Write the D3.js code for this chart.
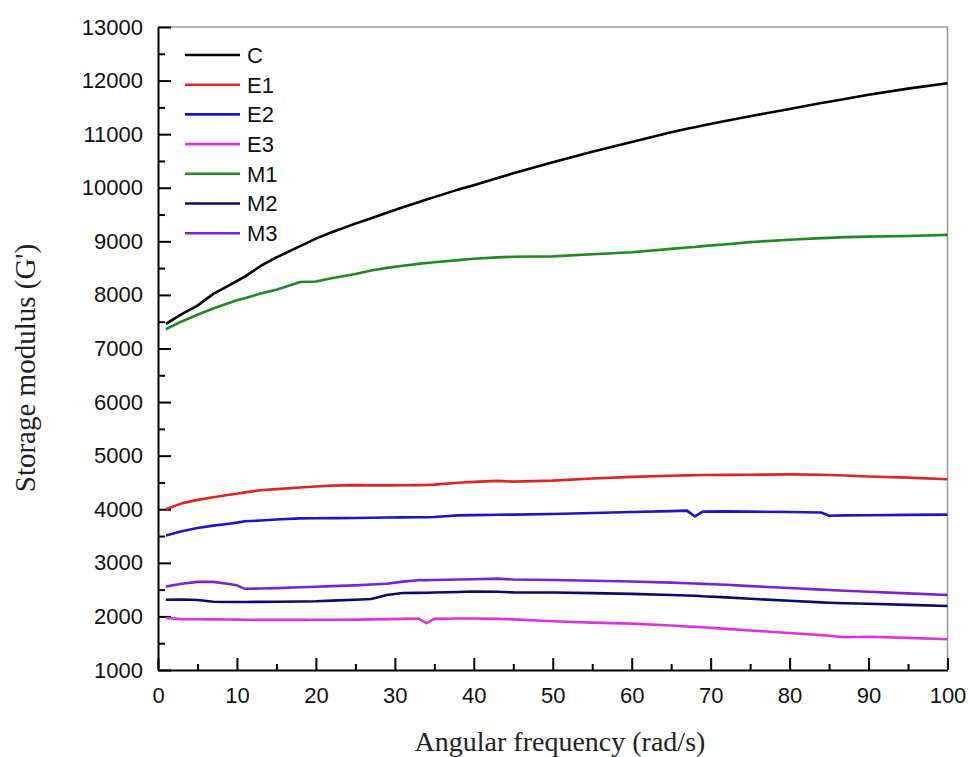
<!DOCTYPE html>
<html>
<head>
<meta charset="utf-8">
<script src="https://cdn.jsdelivr.net/npm/d3@7"></script>
<style>
  body { margin: 0; background: #fff; }
  svg { display: block; }
</style>
</head>
<body>
<div id="chart"></div>
<script>
// angular frequency (rad/s) sampling used for all series
const freq = [1, 3, 5, 7, 9, 10, 11, 13, 15, 18, 20, 22, 25, 27, 29, 31, 33, 34, 35, 38,
  40, 43, 45, 50, 55, 60, 65, 67, 68, 69, 72, 75, 80, 84, 85, 87, 90, 95, 100];

const seriesNames = ['C', 'E1', 'E2', 'E3', 'M1', 'M2', 'M3'];
const seriesColors = ['#000000', '#e02424', '#1818c8', '#dd33dd', '#1f8a1f', '#0b0b6e', '#7a22d4'];

const valC = [7460, 7640, 7800, 8020, 8180, 8260, 8340, 8540, 8700, 8910, 9050, 9170, 9330, 9430, 9535, 9635, 9730, 9780, 9825, 9965,
  10045, 10180, 10270, 10475, 10670, 10855, 11035, 11100, 11130, 11160, 11250, 11335, 11470, 11580, 11605, 11655, 11735, 11850, 11950];
const valE1 = [4000, 4110, 4175, 4225, 4270, 4290, 4315, 4355, 4375, 4405, 4425, 4440, 4450, 4445, 4445, 4448, 4450, 4452, 4460, 4495,
  4510, 4530, 4515, 4535, 4575, 4605, 4625, 4632, 4635, 4640, 4642, 4645, 4650, 4645, 4640, 4630, 4612, 4590, 4560];
const valE2 = [3510, 3590, 3650, 3695, 3730, 3750, 3775, 3790, 3810, 3830, 3832, 3835, 3838, 3842, 3845, 3848, 3850, 3852, 3855, 3885,
  3890, 3898, 3900, 3910, 3930, 3950, 3965, 3975, 3865, 3955, 3960, 3955, 3948, 3940, 3880, 3885, 3888, 3895, 3900];
const valE3 = [1970, 1950, 1948, 1945, 1942, 1940, 1938, 1935, 1935, 1935, 1937, 1938, 1940, 1945, 1950, 1955, 1960, 1875, 1955, 1960,
  1962, 1955, 1945, 1910, 1885, 1865, 1830, 1812, 1805, 1798, 1768, 1738, 1690, 1650, 1640, 1612, 1620, 1600, 1575];
const valM1 = [7360, 7505, 7630, 7745, 7850, 7900, 7940, 8025, 8095, 8240, 8250, 8310, 8390, 8455, 8505, 8545, 8580, 8595, 8610, 8650,
  8675, 8700, 8712, 8720, 8760, 8795, 8860, 8885, 8895, 8910, 8945, 8985, 9030, 9060, 9065, 9078, 9088, 9100, 9120];
const valM2 = [2310, 2315, 2305, 2275, 2270, 2270, 2270, 2272, 2275, 2278, 2282, 2295, 2310, 2325, 2400, 2437, 2440, 2442, 2445, 2455,
  2465, 2460, 2448, 2445, 2435, 2420, 2400, 2390, 2385, 2375, 2355, 2330, 2292, 2262, 2255, 2245, 2235, 2215, 2195];
const valM3 = [2560, 2610, 2645, 2645, 2605, 2580, 2515, 2520, 2528, 2545, 2555, 2565, 2580, 2595, 2610, 2650, 2675, 2678, 2680, 2690,
  2695, 2705, 2688, 2680, 2665, 2652, 2630, 2620, 2615, 2608, 2590, 2565, 2530, 2500, 2492, 2478, 2460, 2430, 2400];

const seriesValues = [valC, valE1, valE2, valE3, valM1, valM2, valM3];

const xTicks = [0, 10, 20, 30, 40, 50, 60, 70, 80, 90, 100];
const yTicks = [1000, 2000, 3000, 4000, 5000, 6000, 7000, 8000, 9000, 10000, 11000, 12000, 13000];

const width = 969, height = 757;
const plotLeft = 158, plotRight = 947.5, plotTop = 27, plotBottom = 670;

const svg = d3.select('#chart').append('svg')
  .attr('width', width)
  .attr('height', height);

const x = d3.scaleLinear().domain([0, 100]).range([plotLeft, plotRight]);
const y = d3.scaleLinear().domain([1000, 13000]).range([plotBottom, plotTop]);

// top and right frame
svg.append('path')
  .attr('d', `M${plotLeft},${plotTop}H${plotRight}V${plotBottom}`)
  .attr('fill', 'none')
  .attr('stroke', '#9a9a9a')
  .attr('stroke-width', 1.5);

const tickFont = g => g.selectAll('text')
  .attr('font-family', '"Liberation Sans", Arial, sans-serif')
  .attr('font-size', 22)
  .attr('fill', '#111');

// minor ticks
svg.append('g')
  .attr('transform', `translate(0,${plotBottom})`)
  .call(d3.axisBottom(x).tickValues(d3.range(5, 100, 10)).tickSize(-6).tickFormat(''))
  .call(g => g.select('.domain').remove())
  .call(g => g.selectAll('line').attr('stroke-width', 2));
svg.append('g')
  .attr('transform', `translate(${plotLeft},0)`)
  .call(d3.axisLeft(y).tickValues(d3.range(1500, 13000, 1000)).tickSize(-7).tickFormat(''))
  .call(g => g.select('.domain').remove())
  .call(g => g.selectAll('line').attr('stroke-width', 2));

// major axes
svg.append('g')
  .attr('transform', `translate(0,${plotBottom})`)
  .call(d3.axisBottom(x).tickValues(xTicks).tickFormat(d3.format('d'))
    .tickSizeInner(-12).tickSizeOuter(0).tickPadding(17))
  .call(tickFont)
  .call(g => g.selectAll('line, .domain').attr('stroke', '#000').attr('stroke-width', 2));
svg.append('g')
  .attr('transform', `translate(${plotLeft},0)`)
  .call(d3.axisLeft(y).tickValues(yTicks).tickFormat(d3.format('d'))
    .tickSizeInner(-13).tickSizeOuter(0).tickPadding(15))
  .call(tickFont)
  .call(g => g.selectAll('line, .domain').attr('stroke', '#000').attr('stroke-width', 2));

// lines
const line = d3.line()
  .x((d, i) => x(freq[i]))
  .y(d => y(d));

svg.append('g')
  .selectAll('path')
  .data(seriesValues)
  .join('path')
  .attr('d', d => line(d))
  .attr('fill', 'none')
  .attr('stroke', (d, i) => seriesColors[i])
  .attr('stroke-width', 2.6)
  .attr('stroke-linejoin', 'round');

// legend
const legend = svg.append('g');
const rowY = i => 55 + i * 29.7;
legend.selectAll('line')
  .data(seriesNames)
  .join('line')
  .attr('x1', 185).attr('x2', 240)
  .attr('y1', (d, i) => rowY(i)).attr('y2', (d, i) => rowY(i))
  .attr('stroke', (d, i) => seriesColors[i])
  .attr('stroke-width', 2.6);
legend.selectAll('text')
  .data(seriesNames)
  .join('text')
  .attr('x', 247)
  .attr('y', (d, i) => rowY(i))
  .attr('dy', '0.36em')
  .attr('font-family', '"Liberation Sans", Arial, sans-serif')
  .attr('font-size', 22)
  .attr('fill', '#111')
  .text(d => d);

// axis titles
svg.append('text')
  .attr('x', 560)
  .attr('y', 751)
  .attr('text-anchor', 'middle')
  .attr('font-family', '"Liberation Serif", "Times New Roman", serif')
  .attr('font-size', 28)
  .attr('fill', '#222')
  .text('Angular frequency (rad/s)');

svg.append('text')
  .attr('transform', 'translate(35,368) rotate(-90)')
  .attr('text-anchor', 'middle')
  .attr('font-family', '"Liberation Serif", "Times New Roman", serif')
  .attr('font-size', 29)
  .attr('fill', '#222')
  .text("Storage modulus (G')");
</script>
</body>
</html>
